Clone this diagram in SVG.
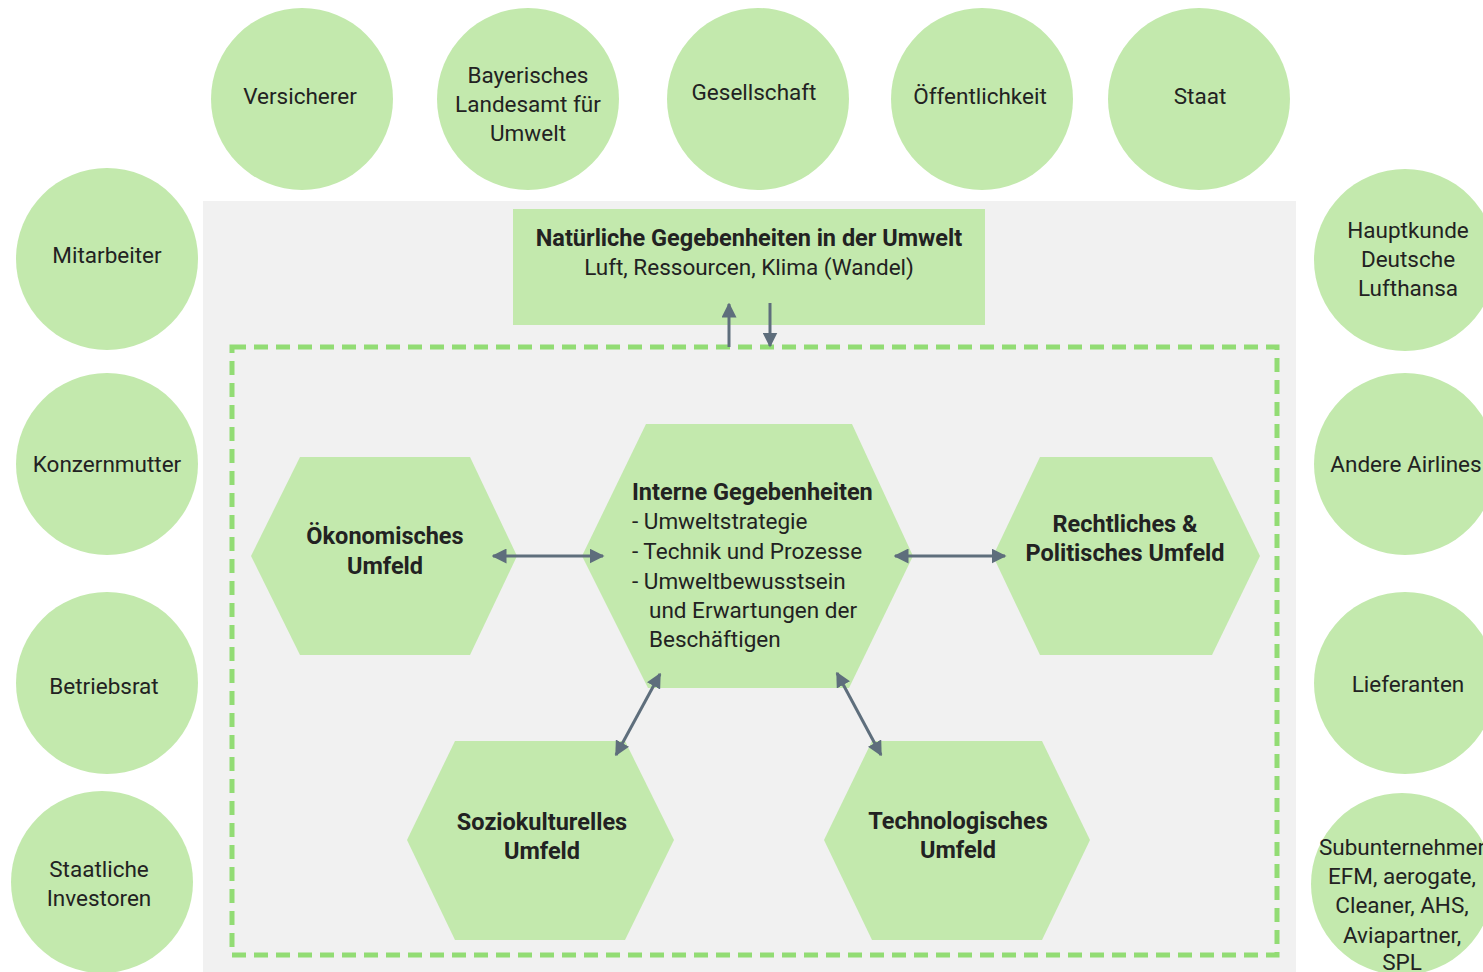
<svg xmlns="http://www.w3.org/2000/svg" width="1483" height="972" viewBox="0 0 1483 972">
<defs>
<style>
.c{fill:#c3e9ad}
.t{font-family:Roboto,"Liberation Sans",sans-serif;font-size:22.5px;fill:#222;text-anchor:middle}
.b{font-weight:bold;font-size:23.5px}
.l{text-anchor:start}
.a{stroke:#5e6e7c;stroke-width:3;fill:none}
</style>
<marker id="ah" viewBox="0 0 10 10" refX="9" refY="5" markerWidth="5" markerHeight="5" orient="auto-start-reverse" markerUnits="strokeWidth">
<path d="M0,0 L10,5 L0,10 z" fill="#5e6e7c"/>
</marker>
</defs>
<rect width="1483" height="972" fill="#ffffff"/>
<rect id="panel" x="203" y="201" width="1093" height="771" fill="#f1f1f1"/>
<rect id="boundary" x="232" y="347" width="1045" height="608" fill="none" stroke="#92dc74" stroke-width="5" stroke-dasharray="14 8"/>

<g id="natur">
<rect class="c" x="513" y="209" width="472" height="116"/>
<text class="t b" x="749" y="246">Natürliche Gegebenheiten in der Umwelt</text>
<text class="t" x="749" y="275">Luft, Ressourcen, Klima (Wandel)</text>
</g>

<g id="versicherer"><circle class="c" cx="302" cy="99" r="91"/><text class="t" x="300" y="104">Versicherer</text></g>
<g id="lfu"><circle class="c" cx="528" cy="99" r="91"/><text class="t" x="528" y="83">Bayerisches</text><text class="t" x="528" y="112">Landesamt für</text><text class="t" x="528" y="141">Umwelt</text></g>
<g id="gesellschaft"><circle class="c" cx="758" cy="99" r="91"/><text class="t" x="754" y="100">Gesellschaft</text></g>
<g id="oeffentlichkeit"><circle class="c" cx="982" cy="99" r="91"/><text class="t" x="980" y="104">Öffentlichkeit</text></g>
<g id="staat"><circle class="c" cx="1199" cy="99" r="91"/><text class="t" x="1200" y="104">Staat</text></g>

<g id="mitarbeiter"><circle class="c" cx="107" cy="259" r="91"/><text class="t" x="107" y="263">Mitarbeiter</text></g>
<g id="konzernmutter"><circle class="c" cx="107" cy="464" r="91"/><text class="t" x="107" y="472">Konzernmutter</text></g>
<g id="betriebsrat"><circle class="c" cx="107" cy="683" r="91"/><text class="t" x="104" y="694">Betriebsrat</text></g>
<g id="investoren"><circle class="c" cx="102" cy="882" r="91"/><text class="t" x="99" y="877">Staatliche</text><text class="t" x="99" y="906">Investoren</text></g>

<g id="hauptkunde"><circle class="c" cx="1405" cy="260" r="91"/><text class="t" x="1408" y="238">Hauptkunde</text><text class="t" x="1408" y="267">Deutsche</text><text class="t" x="1408" y="296">Lufthansa</text></g>
<g id="airlines"><circle class="c" cx="1405" cy="464" r="91"/><text class="t" x="1406" y="472">Andere Airlines</text></g>
<g id="lieferanten"><circle class="c" cx="1405" cy="683" r="91"/><text class="t" x="1408" y="692">Lieferanten</text></g>
<g id="subunternehmer"><circle class="c" cx="1402" cy="884" r="91"/><text class="t" x="1402" y="855">Subunternehmer</text><text class="t" x="1402" y="884">EFM, aerogate,</text><text class="t" x="1402" y="913">Cleaner, AHS,</text><text class="t" x="1402" y="943">Aviapartner,</text><text class="t" x="1402" y="970">SPL</text></g>

<g id="oekonomisch"><polygon class="c" points="251,556 300,457 470,457 517,556 470,655 300,655"/><text class="t b" x="385" y="544">Ökonomisches</text><text class="t b" x="385" y="574">Umfeld</text></g>
<g id="intern"><polygon class="c" points="582,556 646,424 852,424 913,556 849,688 648,688"/>
<text class="t b l" x="632" y="500">Interne Gegebenheiten</text>
<text class="t l" x="632" y="529">- Umweltstrategie</text>
<text class="t l" x="632" y="559">- Technik und Prozesse</text>
<text class="t l" x="632" y="589">- Umweltbewusstsein</text>
<text class="t l" x="649" y="618">und Erwartungen der</text>
<text class="t l" x="649" y="647">Beschäftigen</text>
</g>
<g id="rechtlich"><polygon class="c" points="993,556 1040,457 1212,457 1260,556 1212,655 1040,655"/><text class="t b" x="1125" y="532">Rechtliches &amp;</text><text class="t b" x="1125" y="561">Politisches Umfeld</text></g>
<g id="sozio"><polygon class="c" points="407,840 455,741 625,741 674,840 625,940 455,940"/><text class="t b" x="542" y="830">Soziokulturelles</text><text class="t b" x="542" y="859">Umfeld</text></g>
<g id="techno"><polygon class="c" points="824,840 872,741 1042,741 1090,840 1042,940 872,940"/><text class="t b" x="958" y="829">Technologisches</text><text class="t b" x="958" y="858">Umfeld</text></g>

<g id="connectors">
<line class="a" x1="493" y1="556" x2="603" y2="556" marker-start="url(#ah)" marker-end="url(#ah)"/>
<line class="a" x1="895" y1="556" x2="1005" y2="556" marker-start="url(#ah)" marker-end="url(#ah)"/>
<line class="a" x1="660" y1="674" x2="616" y2="755" marker-start="url(#ah)" marker-end="url(#ah)"/>
<line class="a" x1="837" y1="673" x2="881" y2="755" marker-start="url(#ah)" marker-end="url(#ah)"/>
<line class="a" x1="729" y1="347" x2="729" y2="304" marker-end="url(#ah)"/>
<line class="a" x1="770" y1="303" x2="770" y2="346" marker-end="url(#ah)"/>
</g>
</svg>
